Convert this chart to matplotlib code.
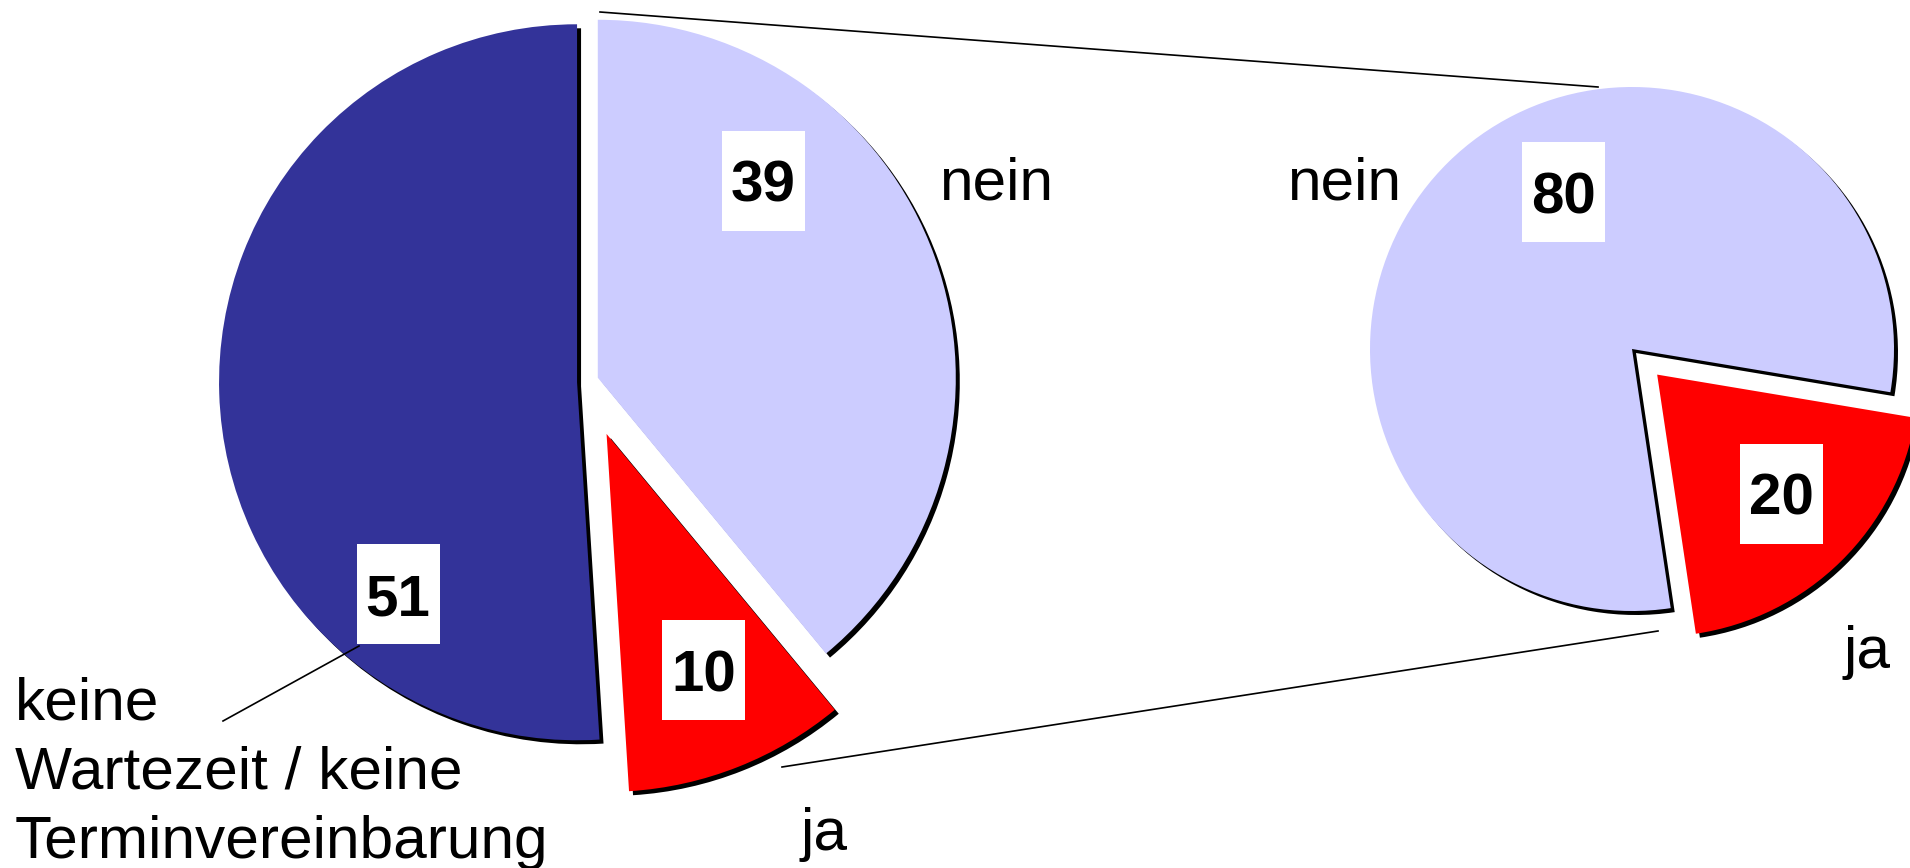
import matplotlib.pyplot as plt
from matplotlib.patches import Rectangle

plt.rcParams['font.family'] = ['Liberation Sans', 'DejaVu Sans']

W, H = 1910, 868

# data
left_labels = ['keine\nWartezeit / keine\nTerminvereinbarung', 'ja', 'nein']
left_values = [51, 10, 39]
right_labels = ['ja', 'nein']
right_values = [20, 80]

dark = '#333399'
light = '#CCCCFF'
red = '#FF0000'
left_colors = [dark, red, light]
right_colors = [red, light]

# layout, image pixels (y down)
left_center = (586, 382)
left_r = 358
left_explode = [0.025, 0.156, 0.035]   # fraction of radius
right_center = (1632, 349)
right_r = 262
right_explode = [0.137, 0.0]
shadow = 4

left_boxes = [(398, 594), (703.5, 670), (763, 181)]
right_boxes = [(1781.5, 493.5), (1563.5, 192)]
# baseline of the (last) line
left_text_pos = [(15, 858), (800, 850), (939, 200)]
right_text_pos = [(1843, 668), (1287, 200)]
BOX_W, BOX_H = 83, 100


def up(y):
    return H - y


fig = plt.figure(figsize=(W / 100, H / 100), dpi=100)
ax = fig.add_axes([0, 0, 1, 1])

def draw_pie(vals, cols, expl, center, r, start):
    cx, cy = center
    ex = [e * r for e in expl]  # pie takes explode in data units
    # shadow first
    ax.pie(vals, colors=['black'] * len(vals), explode=ex, radius=r,
           center=(cx + shadow, up(cy) - shadow), startangle=start,
           wedgeprops={'linewidth': 0})
    ax.pie(vals, colors=cols, explode=ex, radius=r,
           center=(cx, up(cy)), startangle=start,
           wedgeprops={'linewidth': 0})

draw_pie(left_values, left_colors, left_explode, left_center, left_r, 90)
draw_pie(right_values, right_colors, right_explode, right_center, right_r, -81.5)

# value boxes
for vals, boxes in [(left_values, left_boxes), (right_values, right_boxes)]:
    for v, (bx, by) in zip(vals, boxes):
        ax.add_patch(Rectangle((bx - BOX_W / 2, up(by) - BOX_H / 2), BOX_W, BOX_H,
                               facecolor='white', edgecolor='none', zorder=5))
        ax.text(bx, up(by + 21), str(v), ha='center', va='baseline',
                fontsize=42, fontweight='bold', zorder=6)

# category labels
for labs, pos in [(left_labels, left_text_pos), (right_labels, right_text_pos)]:
    for lab, (tx, ty) in zip(labs, pos):
        ax.text(tx, up(ty), lab, ha='left', va='baseline', fontsize=43.5,
                linespacing=1.33, zorder=6)

# leader line for 51 and connector lines
ax.plot([223, 359], [up(721), up(646)], color='black', lw=1.2, zorder=7)
ax.plot([600, 1598], [up(12), up(87)], color='black', lw=1.2, zorder=7)
ax.plot([782, 1658], [up(767), up(631)], color='black', lw=1.2, zorder=7)

ax.set_xlim(0, W)
ax.set_ylim(0, H)
ax.set_aspect('equal')
ax.axis('off')

fig.savefig('out.png', dpi=100)
